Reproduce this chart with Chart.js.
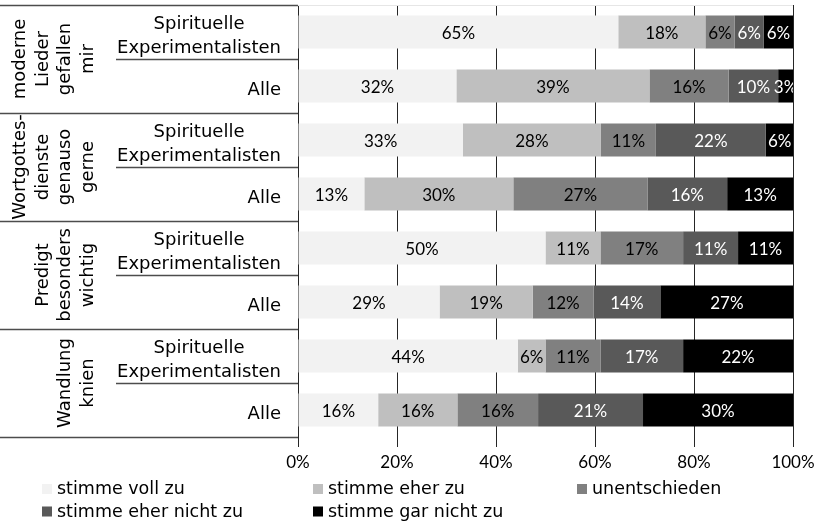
<!DOCTYPE html>
<html>
<head>
<meta charset="utf-8">
<script src="https://cdn.jsdelivr.net/npm/chart.js@4.4.1/dist/chart.umd.min.js"></script>
<style>
  html, body { margin: 0; padding: 0; background: #ffffff; }
  #wrap { width: 822px; height: 522px; position: relative; }
</style>
</head>
<body>
<div id="wrap"><canvas id="chart"></canvas></div>
<script>
// Statement groups (rotated labels, one entry per text line)
const statementLines = [
  ['moderne', 'Lieder', 'gefallen', 'mir'],
  ['Wortgottes-', 'dienste', 'genauso', 'gerne'],
  ['Predigt', 'besonders', 'wichtig'],
  ['Wandlung', 'knien']
];
// Respondent groups shown inside each statement
const respondentLines = [
  ['Spirituelle', 'Experimentalisten'],
  ['Alle']
];
// One category per bar (statement × respondent group)
const categories = [
  'Lieder / SE', 'Lieder / Alle',
  'Wortgottesdienste / SE', 'Wortgottesdienste / Alle',
  'Predigt / SE', 'Predigt / Alle',
  'Wandlung / SE', 'Wandlung / Alle'
];

// Answer shares in percent, one array per answer
const stimmeVollZu       = [64.7, 32.0, 33.3, 13.4, 50.0, 28.6, 44.4, 16.2];
const stimmeEherZu       = [17.6, 39.0, 27.9, 30.1, 11.1, 18.8,  5.6, 16.0];
const unentschieden      = [ 5.9, 16.0, 11.1, 27.1, 16.7, 12.3, 11.1, 16.3];
const stimmeEherNichtZu  = [ 5.9, 10.0, 22.2, 16.1, 11.1, 13.5, 16.7, 21.2];
const stimmeGarNichtZu   = [ 5.9,  3.0,  5.6, 13.3, 11.1, 26.9, 22.2, 30.3];

const seriesNames = ['stimme voll zu', 'stimme eher zu', 'unentschieden', 'stimme eher nicht zu', 'stimme gar nicht zu'];
const seriesValues = [stimmeVollZu, stimmeEherZu, unentschieden, stimmeEherNichtZu, stimmeGarNichtZu];
const seriesColors = ['#f2f2f2', '#bfbfbf', '#808080', '#595959', '#000000'];
const labelColors  = ['#000000', '#000000', '#000000', '#ffffff', '#ffffff'];

const xTicks = [0, 20, 40, 60, 80, 100];

const textFont = '"DejaVu Sans", sans-serif';
const numFont = 'Lato, "Open Sans", sans-serif';

// Percent labels centred in each bar segment
const segmentLabels = {
  id: 'segmentLabels',
  afterDatasetsDraw(chart) {
    const ctx = chart.ctx;
    const area = chart.chartArea;
    ctx.save();
    ctx.beginPath();
    ctx.rect(area.left, area.top, area.right - area.left, area.bottom - area.top);
    ctx.clip();
    ctx.font = '17px ' + numFont;
    ctx.textAlign = 'center';
    ctx.textBaseline = 'alphabetic';
    chart.data.datasets.forEach((ds, di) => {
      const meta = chart.getDatasetMeta(di);
      meta.data.forEach((bar, i) => {
        const v = ds.data[i];
        const left = Math.min(bar.x, bar.base);
        const right = Math.max(bar.x, bar.base);
        ctx.fillStyle = labelColors[di];
        ctx.fillText(Math.round(v) + '%', (left + right) / 2, bar.y + 6.5);
      });
    });
    ctx.restore();
  }
};

// Two-level category labels with separating rules, plus the legend
const sideLabels = {
  id: 'sideLabels',
  afterDraw(chart) {
    const ctx = chart.ctx;
    const y = chart.scales.y;
    const area = chart.chartArea;
    const step = y.getPixelForValue(1) - y.getPixelForValue(0);
    const edge = (i) => y.getPixelForValue(i) - step / 2;

    ctx.save();
    // faint frame line along the top of the plot
    ctx.strokeStyle = '#e6e6e6';
    ctx.lineWidth = 1;
    ctx.beginPath();
    ctx.moveTo(area.left, Math.round(area.top) + 0.5);
    ctx.lineTo(area.right, Math.round(area.top) + 0.5);
    ctx.stroke();

    ctx.strokeStyle = '#4d4d4d';
    ctx.lineWidth = 1.3;
    // statement separators
    for (let g = 0; g <= statementLines.length; g++) {
      const yy = Math.round(edge(g * 2)) + 0.5;
      ctx.beginPath();
      ctx.moveTo(0, yy);
      ctx.lineTo(area.left, yy);
      ctx.stroke();
    }
    // respondent separators
    for (let g = 0; g < statementLines.length; g++) {
      const yy = Math.round(edge(g * 2 + 1)) + 0.5;
      ctx.beginPath();
      ctx.moveTo(116, yy);
      ctx.lineTo(area.left, yy);
      ctx.stroke();
    }

    ctx.fillStyle = '#000000';
    ctx.font = '18px ' + textFont;

    // respondent labels: block right aligned, lines centred inside the block
    categories.forEach((c, i) => {
      const lines = respondentLines[i % 2];
      const cy = y.getPixelForValue(i);
      const widths = lines.map(l => ctx.measureText(l).width);
      const blockW = Math.max(...widths);
      const right = area.left - 17;
      const lh = 24;
      const firstBase = cy + 8.5 - (lines.length - 1) * lh / 2;
      ctx.textBaseline = 'alphabetic';
      ctx.textAlign = 'center';
      lines.forEach((l, k) => {
        const cx = lines.length > 1 ? right - blockW / 2 : right - widths[k] / 2;
        ctx.fillText(l, cx, firstBase + k * lh);
      });
    });

    // statement labels, rotated
    statementLines.forEach((lines, g) => {
      const yc = (edge(g * 2) + edge(g * 2 + 2)) / 2;
      const n = lines.length;
      lines.forEach((l, k) => {
        const x = 88 - (n - 1 - k) * 22.5;
        ctx.save();
        ctx.translate(x, yc);
        ctx.rotate(-Math.PI / 2);
        ctx.textAlign = 'center';
        ctx.textBaseline = 'middle';
        ctx.fillText(l, 0, 0);
        ctx.restore();
      });
    });

    // legend in three columns
    const colX = [42, 313, 577];
    const rowBase = [494, 516.5];
    ctx.font = '17.5px ' + textFont;
    ctx.textAlign = 'left';
    ctx.textBaseline = 'alphabetic';
    chart.data.datasets.forEach((ds, di) => {
      const col = di % 3;
      const row = Math.floor(di / 3);
      const bx = colX[col];
      const by = rowBase[row];
      ctx.fillStyle = ds.backgroundColor;
      ctx.fillRect(bx, by - 10, 10, 10);
      ctx.fillStyle = '#000000';
      ctx.fillText(ds.label, bx + 15, by);
    });
    ctx.restore();
  }
};

new Chart(document.getElementById('chart'), {
  type: 'bar',
  data: {
    labels: categories,
    datasets: seriesNames.map((name, i) => ({
      label: name,
      data: seriesValues[i],
      backgroundColor: seriesColors[i],
      borderWidth: 0,
      categoryPercentage: 1,
      barPercentage: 0.612
    }))
  },
  options: {
    indexAxis: 'y',
    responsive: true,
    maintainAspectRatio: false,
    animation: false,
    events: [],
    layout: { padding: { left: 298, right: 29, top: 5, bottom: 0 } },
    plugins: { legend: { display: false }, tooltip: { enabled: false } },
    scales: {
      x: {
        stacked: true,
        min: 0,
        max: 100,
        afterBuildTicks(scale) { scale.ticks = xTicks.map(v => ({ value: v })); },
        afterFit(scale) { scale.height = 85; },
        border: { display: false },
        grid: { color: '#262626', lineWidth: 1, tickLength: 10, drawTicks: true },
        ticks: {
          padding: 5,
          color: '#000000',
          font: { family: numFont, size: 17 },
          callback: v => v + '%',
          maxRotation: 0
        }
      },
      y: {
        stacked: true,
        display: true,
        afterFit(scale) { scale.width = 0; },
        border: { display: false },
        grid: { display: false },
        ticks: { display: false }
      }
    }
  },
  plugins: [segmentLabels, sideLabels]
});
</script>
</body>
</html>
